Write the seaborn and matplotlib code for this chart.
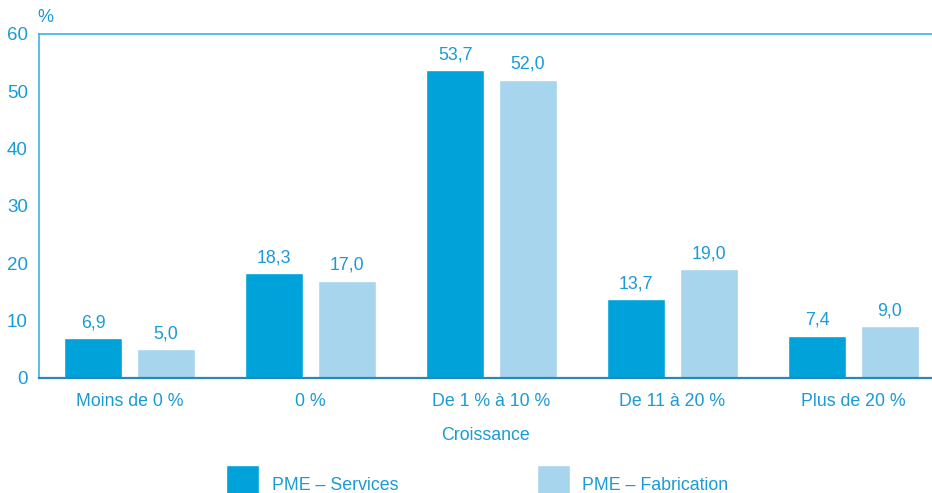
import pandas as pd
import seaborn as sns
import matplotlib.pyplot as plt
from matplotlib.ticker import FixedLocator

sns.set_style('white')
plt.rcParams['font.family'] = ['Liberation Sans', 'DejaVu Sans']

categories = ['Moins de 0 %', '0 %', 'De 1 % à 10 %', 'De 11 à 20 %', 'Plus de 20 %']
services = [6.9, 18.3, 53.7, 13.7, 7.4]
fabrication = [5.0, 17.0, 52.0, 19.0, 9.0]
series = ['PME – Services', 'PME – Fabrication']

txt = '#1A9AD6'
dark = '#00A3D9'
light = '#A7D5EE'
fs = 12.8

df = pd.DataFrame({
    'cat': categories * 2,
    'val': services + fabrication,
    'serie': [series[0]] * 5 + [series[1]] * 5,
})

fig = plt.figure(figsize=(9.32, 4.93), dpi=100)
ax = fig.add_axes([39 / 932, 115 / 493, 893 / 932, 344 / 493])

sns.barplot(data=df, x='cat', y='val', hue='serie', order=categories,
            hue_order=series, palette={series[0]: dark, series[1]: light},
            gap=0.2, saturation=1, legend=True, ax=ax)

for cont, vals in zip(ax.containers, [services, fabrication]):
    ax.bar_label(cont, labels=[f'{v:.1f}'.replace('.', ',') for v in vals],
                 padding=5, color=txt, fontsize=fs)

ax.set_ylim(0, 60)
ax.set_xlim(-0.5, -0.5 + 893 / 181)
ax.set_yticks(range(0, 61, 10))
ax.xaxis.set_minor_locator(FixedLocator([0.5, 1.5, 2.5, 3.5]))
ax.tick_params(axis='y', direction='in', length=5, width=1, color=txt,
               labelcolor=txt, labelsize=13.5, pad=8)
ax.tick_params(axis='x', which='major', length=0, labelcolor=txt,
               labelsize=fs, pad=11)
ax.tick_params(axis='x', which='minor', direction='in', length=8, width=1,
               color=txt)
ax.set_xlabel('Croissance', color=txt, fontsize=fs, labelpad=12)
ax.set_ylabel('')
fig.text(45 / 932, 1 - 17 / 493, '%', color=txt, fontsize=13,
         ha='center', va='center')

for s in ['left', 'top']:
    ax.spines[s].set_color('#3DB3E3')
    ax.spines[s].set_linewidth(1.2)
ax.spines['bottom'].set_color('#2A88B8')
ax.spines['bottom'].set_linewidth(1.6)
ax.spines['right'].set_visible(False)

handles, labels = ax.get_legend_handles_labels()
ax.get_legend().remove()
fig.legend(handles, labels, loc='upper center', bbox_to_anchor=(0.512, 28 / 493),
           ncol=2, frameon=False, fontsize=fs, labelcolor=txt,
           handlelength=1.85, handleheight=3.0, handletextpad=0.7,
           columnspacing=7.8, borderpad=0, borderaxespad=0)

fig.savefig('out.png', dpi=100)
